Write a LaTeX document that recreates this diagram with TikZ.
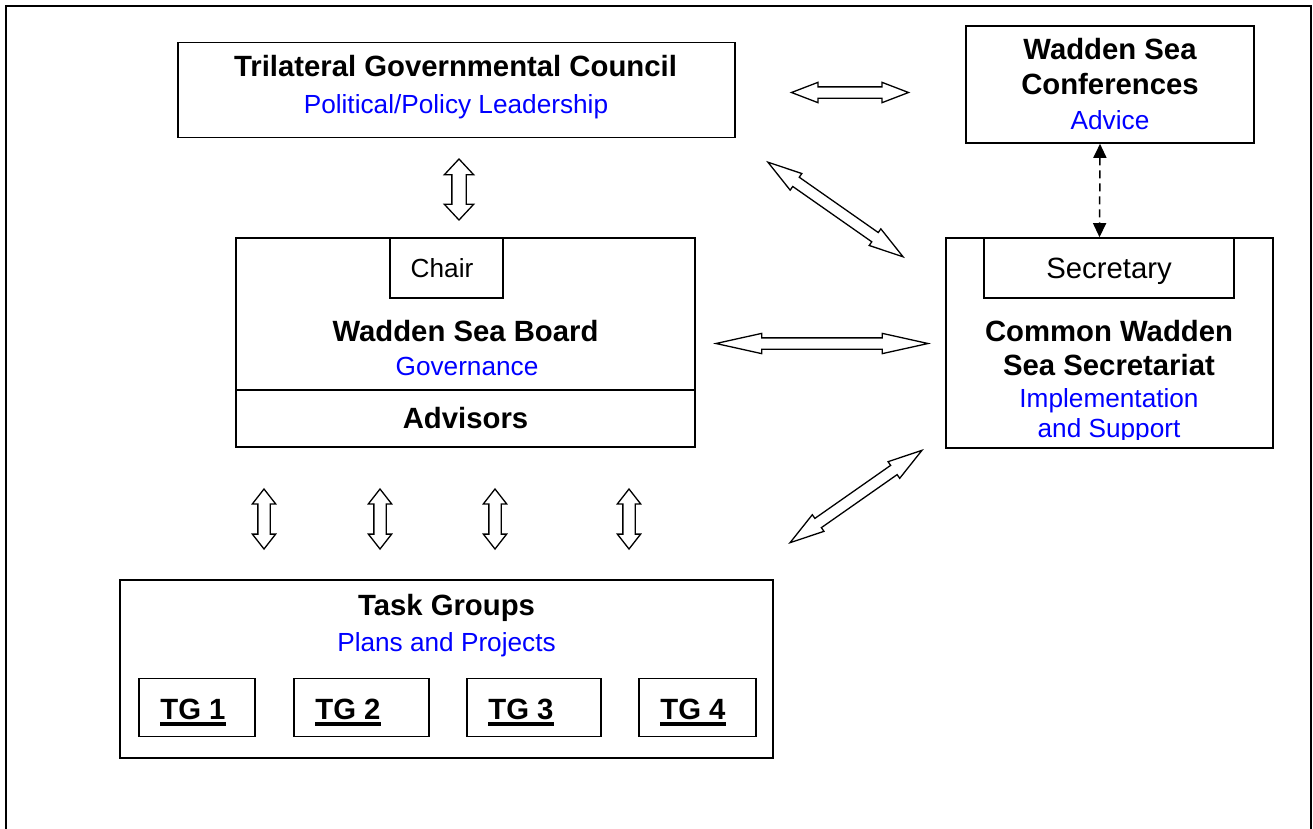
\documentclass[tikz,border=0pt]{standalone}
\usepackage{fontspec}
\setmainfont{Liberation Sans}
\usetikzlibrary{shapes.arrows}
\usetikzlibrary{arrows.meta}
\usetikzlibrary{calc}

\tikzset{
	box/.style={shape=rectangle,draw,line width=1.6pt,inner sep=0pt},
	head/.style={font=\bfseries\fontsize{29.3}{34}\selectfont,anchor=base},
	sub/.style={font=\fontsize{26.2}{30}\selectfont,text=blue,anchor=base},
	plain/.style={font=\fontsize{26.2}{30}\selectfont,anchor=base},
	blockarr/.style={shape=double arrow,draw,line width=1.3pt,inner sep=5pt,double arrow head extend=4.5pt},
	dasharr/.style={line width=1.5pt,dash pattern=on 8pt off 5pt,{Triangle[width=13pt,length=14pt]}-{Triangle[width=13pt,length=14pt]}},
}

\begin{document}
\begin{tikzpicture}[x=1pt,y=-1pt]
	\useasboundingbox (0,0) rectangle (1313,828);
	\draw[line width=1.6pt] (6,830) -- (6,6) -- (1311,6) -- (1311,830);
	% council
	\draw (456.5,90) node (tgc) [box,minimum width=557pt,minimum height=95pt] {};
	\draw (455.5,76) node (tgct) [head] {Trilateral Governmental Council};
	\draw (456,113.5) node (tgcs) [sub] {Political/Policy Leadership};
	% conferences
	\draw (1110,84.5) node (wsc) [box,minimum width=288pt,minimum height=117pt] {};
	\draw (1110,59.5) node (wsct1) [head] {Wadden Sea};
	\draw (1110,94.5) node (wsct2) [head] {Conferences};
	\draw (1110,129) node (wscs) [sub] {Advice};
	% board
	\draw (465.5,342.5) node (wsb) [box,minimum width=459pt,minimum height=209pt] {};
	\draw (446.5,268) node (chair) [box,minimum width=113pt,minimum height=60pt] {};
	\draw (442,277) node (chairt) [plain] {Chair};
	\draw (465.5,341.5) node (wsbt) [head] {Wadden Sea Board};
	\draw (467,375) node (wsbs) [sub] {Governance};
	\draw (465.5,418.5) node (adv) [box,font=\bfseries\fontsize{29.3}{34}\selectfont,minimum width=459pt,minimum height=57pt] {Advisors};
	% secretariat
	\draw (1109.5,343) node (cwss) [box,minimum width=327pt,minimum height=210pt] {};
	\draw (1109,268) node (sec) [box,font=\fontsize{29.3}{34}\selectfont,text depth=0pt,minimum width=250pt,minimum height=60pt] {Secretary};
	\draw (1109,341.5) node (cwsst1) [head] {Common Wadden};
	\draw (1109,375.5) node (cwsst2) [head] {Sea Secretariat};
	\draw (1109,407) node (cwsss1) [sub] {Implementation};
	\begin{scope}
		\clip (946,300) rectangle (1273,439);
		\draw (1109,437.5) node (cwsss2) [sub] {and Support};
	\end{scope}
	% task groups
	\draw (446.5,669) node (tg) [box,minimum width=653pt,minimum height=178pt] {};
	\draw (446.5,615.5) node (tgt) [head] {Task Groups};
	\draw (446.5,651) node (tgs) [sub] {Plans and Projects};
	\foreach \i/\xl/\xr in {1/139/255,2/294/429,3/467/601,4/639/756} {
		\draw ({(\xl+\xr)/2},707.5) node (tg\i) [box,minimum width={\xr-\xl},minimum height=58pt] {};
		\draw ($(tg\i.west)+(22,11.5)$) node (tgl\i) [head,anchor=base west,inner xsep=0pt] {TG \i};
		\draw[line width=4.5pt] ($(tgl\i.base west)+(0,5)$) -- ($(tgl\i.base east)+(0,5)$);
	}
	% arrows
	\draw (850,92.5) node (a1) [blockarr,minimum height=117pt,double arrow tip angle=42] {};
	\draw (459,189.5) node (a2) [blockarr,rotate=90,minimum height=61pt,inner sep=6.5pt,double arrow head extend=7.5pt,double arrow tip angle=86] {};
	\draw (835.5,209.5) node (a3) [blockarr,rotate=-35,minimum height=165pt,double arrow tip angle=33] {};
	\draw (822,343.5) node (a4) [blockarr,minimum height=212pt,double arrow tip angle=25] {};
	\draw (856,496.5) node (a5) [blockarr,rotate=35,minimum height=161pt,double arrow tip angle=33] {};
	\foreach \x [count=\j] in {264,380,495,629}
		\draw (\x,519) node (b\j) [blockarr,rotate=90,minimum height=60pt,inner sep=5.5pt,double arrow head extend=5.5pt,double arrow tip angle=76] {};
	\draw[dasharr] ($(wsc.south)+(-10,0)$) -- ($(cwss.north)+(-10,0)$);
\end{tikzpicture}
\end{document}
